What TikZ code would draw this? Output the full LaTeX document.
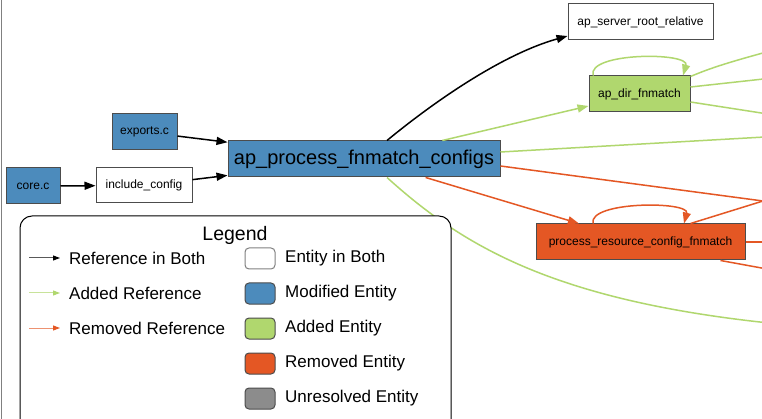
\documentclass[tikz,border=0pt]{standalone}
\usepackage{fontspec}
\setmainfont{Liberation Sans}
\usetikzlibrary{arrows.meta}

\definecolor{modblue}{RGB}{76,139,188}
\definecolor{addgreen}{RGB}{176,215,110}
\definecolor{remorange}{RGB}{228,87,36}
\definecolor{unresgray}{RGB}{140,140,140}

\tikzset{
  entity/.style={draw=black!70, line width=1pt, minimum height=36pt, inner sep=0pt,
    font=\fontsize{12}{14}\selectfont},
  bigentity/.style={entity, font=\fontsize{20}{24}\selectfont},
  refboth/.style={black, line width=1.5pt, -{Triangle[length=11pt,width=8pt]}},
  refadd/.style={addgreen, line width=1.5pt, -{Triangle[length=11pt,width=8pt]}},
  refrem/.style={remorange, line width=1.5pt, -{Triangle[length=11pt,width=8pt]}},
  legtext/.style={anchor=west, inner sep=0pt, font=\fontsize{17}{20}\selectfont},
  legbox/.style={draw=black!70, line width=1pt, rounded corners=4pt,
    minimum width=30pt, minimum height=21pt, inner sep=0pt},
}

\begin{document}
\begin{tikzpicture}[x=1pt,y=-1pt]
  \clip (0,0) rectangle (762,419);
  \fill[white] (0,0) rectangle (762,419);
  \draw[gray, line width=1pt] (1.5,0) -- (1.5,419);

  % entities
  \node[entity, fill=modblue, minimum width=54pt] (core) at (33,186) {core.c};
  \node[entity, fill=white, minimum width=96pt, minimum height=35pt] (incl) at (144,185.5) {include\_config};
  \node[entity, fill=modblue, minimum width=65pt] (exports) at (144.5,132) {exports.c};
  \node[bigentity, fill=modblue, minimum width=272pt] (apfn) at (364,159) {ap\_process\_fnmatch\_configs};
  \node[entity, fill=white, minimum width=145pt] (aproot) at (640.5,22) {ap\_server\_root\_relative};
  \node[entity, fill=addgreen, minimum width=101pt] (apdir) at (639.5,94) {ap\_dir\_fnmatch};
  \node[entity, fill=remorange, minimum width=209pt] (prc) at (640.5,242) {process\_resource\_config\_fnmatch};

  % entities out of view
  \coordinate (offa) at (800,43);
  \coordinate (offb) at (800,75);
  \coordinate (offc) at (800,119);
  \coordinate (offd) at (800,135);
  \coordinate (offe) at (763,201);
  \coordinate (offf) at (800,242);
  \coordinate (offg) at (800,275);
  \coordinate (offh) at (800,326);

  % references
  \draw[refboth] (core) -- (incl);
  \draw[refboth] (exports) -- (apfn);
  \draw[refboth] (incl) -- (apfn);
  \draw[refboth] ([xshift=23pt]apfn.north) .. controls (430,105) and (500,55) .. ([yshift=-14pt]aproot.west);

  \draw[refadd] (apfn) -- (apdir);
  \draw[refadd] ([xshift=-46.5pt]apdir.north) .. controls (587,52) and (690,52) .. ([xshift=43.5pt]apdir.north);
  \draw[addgreen, line width=1.5pt] ([yshift=-1pt]apdir.north east) .. controls (715,66) and (740,59) .. (offa);
  \draw[addgreen, line width=1.5pt] ([yshift=7pt]apdir.east) -- (offb);
  \draw[addgreen, line width=1.5pt] ([yshift=-8pt]apdir.east) -- (offc);
  \draw[addgreen, line width=1.5pt] ([yshift=7pt]apfn.east) -- (offd);
  \draw[addgreen, line width=1.5pt] ([xshift=23pt]apfn.south) .. controls (465,248) and (560,305) .. (offh);

  \draw[remorange, line width=1.5pt] ([yshift=-7pt]apfn.east) -- (offe);
  \draw[refrem] (apfn) -- (prc);
  \draw[refrem] ([xshift=-47.5pt]prc.north) .. controls (588,201) and (690,201) .. ([xshift=43.5pt]prc.north);
  \draw[remorange, line width=1.5pt] ([xshift=50pt]prc.north) -- (offe);
  \draw[remorange, line width=1.5pt] (prc.east) -- (offf);
  \draw[remorange, line width=1.5pt] ([xshift=-25pt]prc.south east) -- (offg);

  % legend
  \draw[black, line width=1pt, fill=white, rounded corners=12pt] (20,216) rectangle (451,445);
  \node[font=\fontsize{19.5}{22}\selectfont] (legtitle) at (235,235) {Legend};

  \coordinate (lbs) at (29,258);  \coordinate (lbe) at (60,258);
  \coordinate (las) at (29,293);  \coordinate (lae) at (60,293);
  \coordinate (lrs) at (29,328);  \coordinate (lre) at (60,328);
  \draw[black!65, line width=1pt, -{Triangle[length=7pt,width=5pt,fill=black,color=black]}] (lbs) -- (lbe);
  \draw[addgreen!70, line width=1pt, -{Triangle[length=7pt,width=5pt,fill=addgreen,color=addgreen]}] (las) -- (lae);
  \draw[remorange!65, line width=1pt, -{Triangle[length=7pt,width=5pt,fill=remorange,color=remorange]}] (lrs) -- (lre);
  \node[legtext] (lbtext) at (69,258) {Reference in Both};
  \node[legtext] (latext) at (69,293) {Added Reference};
  \node[legtext] (lrtext) at (69,328) {Removed Reference};

  \node[legbox, fill=white, draw=black!50] (lboth) at (260,258.5) {};
  \node[legbox, fill=modblue] (lmod) at (260,293.5) {};
  \node[legbox, fill=addgreen] (ladd) at (260,328.5) {};
  \node[legbox, fill=remorange] (lrem) at (260,363.5) {};
  \node[legbox, fill=unresgray] (lunres) at (260,398.5) {};
  \node[legtext] (lbothtext) at (285,258) {Entity in Both};
  \node[legtext] (lmodtext) at (285,293) {Modified Entity};
  \node[legtext] (laddtext) at (285,328) {Added Entity};
  \node[legtext] (lremtext) at (285,363) {Removed Entity};
  \node[legtext] (lunrestext) at (285,398) {Unresolved Entity};
\end{tikzpicture}
\end{document}
